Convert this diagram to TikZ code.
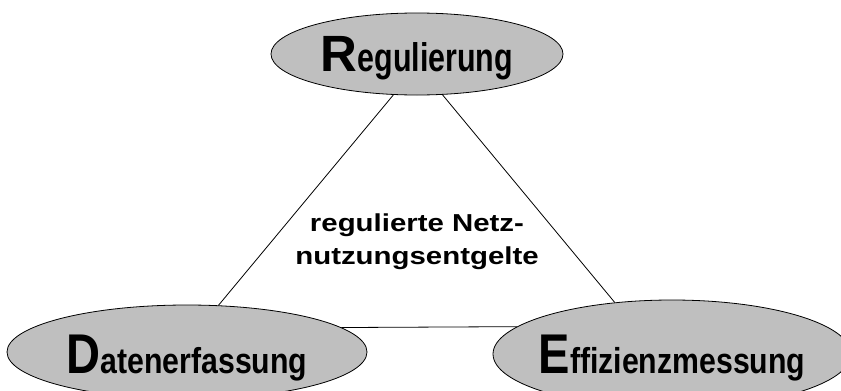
\documentclass[tikz,border=0pt]{standalone}
\usepackage{fontspec}
\setmainfont{Liberation Sans}
\newfontfamily\topnarrow[FakeStretch=0.76]{Liberation Sans}
\newfontfamily\botnarrow[FakeStretch=0.84]{Liberation Sans}
\newfontfamily\midwide[FakeStretch=1.2]{Liberation Sans}
\usepackage{tikz}
\usetikzlibrary{shapes.geometric}

\begin{document}
\begin{tikzpicture}[x=1pt,y=-1pt,line width=0.8pt,
  main node/.style={ellipse,draw,fill=gray!50,
  inner sep=0pt,inner xsep=-10pt,font=\bfseries}]
  \useasboundingbox (0,0) rectangle (841,391);
  \clip (0,0) rectangle (841,391);

  \node[main node,minimum width=292pt,minimum height=82pt,
    text height=44pt,text depth=8.6pt] (Reg) at (417,54)
    {\fontsize{51}{51}\selectfont R\topnarrow\fontsize{40}{40}\selectfont egulierung};
  \node[main node,minimum width=360pt,minimum height=94pt,
    text height=50pt,text depth=8pt] (Dat) at (187,352)
    {\botnarrow\fontsize{56}{56}\selectfont D\fontsize{36}{36}\selectfont atenerfassung};
  \node[main node,minimum width=358pt,minimum height=108pt,
    text height=48pt,text depth=10pt] (Eff) at (672,354)
    {\botnarrow\fontsize{56}{56}\selectfont E\fontsize{36}{36}\selectfont ffizienzmessung};

  \node[font=\midwide\bfseries\fontsize{24.5}{33}\selectfont,
    align=center] (Ntz) at (417,242) {regulierte Netz-\\nutzungsentgelte};

  \path (Reg.240) edge (Dat.56)
        (Reg.302) edge (Eff.138)
        (Dat.9) edge (Eff.170);
\end{tikzpicture}
\end{document}
